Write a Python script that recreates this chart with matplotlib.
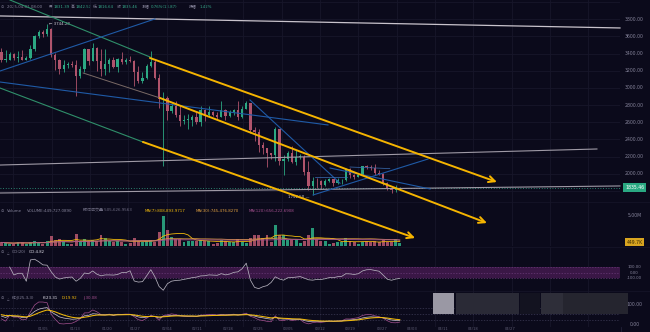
import numpy as np
import pandas as pd
import matplotlib
matplotlib.use("Agg")
import matplotlib.pyplot as plt
from matplotlib.patches import Rectangle
from matplotlib.lines import Line2D
from matplotlib.transforms import blended_transform_factory as btf

plt.rcParams['font.family'] = ['DejaVu Sans', 'Noto Sans CJK SC']

W, H = 650, 332

# ---------------- data (daily candles, 2024-12-26 .. 2025-04-01) ----------------
first_open = 3420.0
last_open = 1831.39
closes = [3330, 3330, 3400, 3350, 3360, 3330, 3350, 3450,
          3610, 3655, 3630, 3690,
          3380, 3330, 3220, 3270, 3280, 3265,
          3135, 3225, 3450, 3310, 3470, 3310,
          3215, 3280, 3330, 3240, 3340, 3300, 3320, 3310,
          3180, 3080, 3110, 3250, 3300, 3120, 2870,
          2880, 2730, 2790, 2690, 2620, 2630, 2630,
          2660, 2600, 2740, 2680, 2720, 2690, 2660,
          2740, 2670, 2720, 2740, 2660, 2760, 2820,
          2510, 2490, 2330, 2300, 2240, 2220,
          2520, 2150, 2170, 2240, 2140, 2200, 2200,
          2020, 1860, 1920, 1910, 1865, 1910, 1940,
          1890, 1925, 1930, 2055, 1980, 1965, 1985,
          2085, 2080, 2070, 2010, 2000, 1895, 1830,
          1805, 1821.59, 1835.46]
highs = [3460, 3440, 3420, 3410, 3430, 3440, 3370, 3500,
         3620, 3670, 3670, 3744.28,
         3700, 3410, 3340, 3320, 3300, 3310,
         3330, 3260, 3470, 3450, 3520, 3480,
         3450, 3450, 3350, 3360, 3350, 3420, 3350, 3370,
         3320, 3260, 3180, 3280, 3430, 3320, 3160,
         2950, 2900, 2830, 2850, 2800, 2680, 2700,
         2680, 2720, 2790, 2760, 2790, 2730, 2720,
         2850, 2750, 2740, 2760, 2850, 2790, 2850,
         2830, 2550, 2520, 2370, 2300, 2240,
         2550, 2520, 2220, 2260, 2320, 2280, 2230,
         2220, 2150, 1960, 1950, 1930, 1940, 1950,
         1940, 1950, 1940, 2070, 2070, 2000, 2000,
         2090, 2100, 2100, 2110, 2040, 2010, 1900,
         1850, 1865, 1842.57]
lows = [3300, 3300, 3320, 3320, 3300, 3320, 3320, 3340,
        3430, 3580, 3590, 3610,
        3360, 3210, 3160, 3190, 3230, 3240,
        2910, 3120, 3180, 3270, 3310, 3200,
        3140, 3150, 3190, 3230, 3180, 3280, 3280, 3300,
        3020, 3060, 3060, 3100, 3240, 3100, 2770,
        2090, 2630, 2710, 2660, 2560, 2580, 2520,
        2560, 2580, 2560, 2620, 2670, 2670, 2640,
        2660, 2630, 2660, 2690, 2630, 2650, 2750,
        2480, 2380, 2250, 2230, 2080, 2170,
        2150, 2100, 1990, 2150, 2120, 2100, 2170,
        1990, 1810, 1752.5, 1830, 1820, 1860, 1900,
        1860, 1880, 1880, 1920, 1950, 1940, 1960,
        1980, 2060, 2040, 1990, 1980, 1870, 1810,
        1780, 1790, 1816.64]
volumes_m = [0.6, 0.5, 0.4, 0.4, 0.7, 0.6, 0.4, 0.6,
             0.8, 0.5, 0.4, 0.9,
             1.7, 1.0, 1.2, 0.9, 0.4, 0.4,
             2.0, 0.9, 1.1, 0.9, 1.0, 0.9,
             1.9, 1.4, 0.9, 0.7, 0.9, 0.7, 0.4, 0.5,
             1.3, 0.9, 0.7, 0.8, 1.0, 0.7, 2.4,
             5.0, 2.6, 1.5, 1.2, 1.2, 0.6, 0.8,
             0.9, 0.8, 1.0, 0.9, 0.8, 0.4, 0.5,
             1.0, 0.8, 0.6, 0.6, 1.2, 0.6, 0.5,
             1.4, 1.8, 1.8, 1.3, 1.9, 0.6,
             3.5, 1.8, 1.9, 1.0, 1.0, 1.2, 0.5,
             0.9, 1.8, 3.0, 1.2, 0.9, 0.8, 0.4,
             0.5, 0.7, 0.6, 1.3, 0.9, 0.6, 0.4,
             0.6, 0.9, 0.7, 0.8, 0.6, 1.0, 0.6,
             0.7, 1.1, 0.45]

price_ticks = [3800, 3600, 3400, 3200, 3000, 2800, 2600, 2400, 2200, 2000]
price_grid = [1800, 2000, 2200, 2400, 2600, 2800, 3000, 3200, 3400, 3600, 3800, 4000]
x_tick_pos = [10.0, 17.7, 25.4, 32.2, 39.9, 47.1, 54.6, 61.8, 69.1, 76.8, 84.0,
              91.7, 98.9, 106.4, 113.6, 122.6]
x_tick_labels = ['01/05', '01/13', '01/20', '01/27', '02/04', '02/11', '02/18', '02/25',
                 '03/05', '03/12', '03/19', '03/27', '04/03', '04/11', '04/18', '04/27']

# drawn trendlines: (x0, p0, x1, p1, color, lw, arrow)
trendlines = [
    (-0.34, 3839, 149.06, 3699, '#c9c3cc', 0.9, False),
    (2.07, 4025, 35.8, 3361, '#2f8f6a', 0.8, False),
    (35.8, 3349, 119.4, 1903, '#f5b400', 1.4, True),
    (-0.34, 3197, 37.0, 3804, '#1f5aa6', 0.8, False),
    (-0.34, 3069, 78.7, 2568, '#1f5aa6', 0.8, False),
    (-0.34, 2999, 34.1, 2370, '#2f8f6a', 0.8, False),
    (34.1, 2370, 99.7, 1250, '#f5b400', 1.4, True),
    (19.7, 3174, 38.2, 2883, '#7a6a66', 0.7, False),
    (38.2, 2883, 117.0, 1425, '#f5b400', 1.4, True),
    (-0.34, 2101, 143.5, 2288, '#9f9aa6', 0.8, False),
    (-0.34, 1775, 149.06, 1857, '#9f9aa6', 0.8, False),
    (59.9, 2859, 81.6, 1889, '#1f5aa6', 0.8, False),
    (75.1, 1752, 102.8, 2171, '#1f5aa6', 0.8, False),
    (79.2, 2066, 103.3, 1822, '#1f5aa6', 0.8, False),
    (75.6, 1965, 83.3, 1965, '#3b6fb5', 0.5, False),
    (84.0, 2078, 93.6, 2060, '#3b6fb5', 0.5, False),
]

# ---------------- derived series ----------------
n = len(closes)
x = np.arange(n, dtype=float)
c = np.array(closes, float)
h = np.array(highs, float)
l = np.array(lows, float)
o = np.concatenate([[first_open], c[:-1]])
o[-1] = last_open
v = np.array(volumes_m, float)

tp = (h + l + c) / 3
cci = np.full(n, np.nan)
for i in range(n):
    w = tp[max(0, i - 19):i + 1]
    if len(w) < 3:
        continue
    m = w.mean()
    md = np.abs(w - m).mean()
    cci[i] = (tp[i] - m) / (0.015 * md) if md > 0 else 0

K = D = 50.0
ks, ds, js = [], [], []
for i in range(n):
    hh = h[max(0, i - 24):i + 1].max()
    ll = l[max(0, i - 24):i + 1].min()
    rsv = (c[i] - ll) / (hh - ll) * 100 if hh > ll else 50
    K = 2 / 3 * K + rsv / 3
    D = 2 / 3 * D + K / 3
    ks.append(K); ds.append(D); js.append(3 * K - 2 * D)

vs = pd.Series(v)
ma7 = vs.rolling(7, min_periods=1).mean()
ma30 = vs.rolling(30, min_periods=1).mean()
ma120 = vs.rolling(120, min_periods=1).mean()

# ---------------- style ----------------
BG = '#0b0a1b'
GRID = '#17162a'
TXT = '#85839a'
UP = '#2ca883'
DN = '#b0546c'
TEAL = '#35a98a'
YEL = '#f0b90b'
ORG = '#e0a040'
PUR = '#a4508f'
FS = 3.3      # axis labels
FH = 2.8      # header line
FP = 2.9      # panel headers
XL = (-0.337, 149.06)
grid_x = np.arange(2.89, 150, 9.236)

fig = plt.figure(figsize=(W / 100, H / 100), dpi=100, facecolor=BG)


def add_ax(top_px, bot_px, z=1):
    ax = fig.add_axes([0, 1 - bot_px / H, 620 / W, (bot_px - top_px) / H])
    ax.patch.set_visible(False)
    ax.set_zorder(z)
    for s in ax.spines.values():
        s.set_visible(False)
    ax.set_xlim(XL)
    ax.tick_params(left=False, bottom=False, labelleft=False, labelbottom=False)
    for g in grid_x:
        ax.axvline(g, color=GRID, lw=0.6, zorder=0)
    return ax


def ftxt(xp, yp, s, color=TXT, fs=FP, ha='left', **kw):
    fig.text(xp / W, 1 - yp / H, s, color=color, fontsize=fs, ha=ha, va='center', **kw)


# ---- price panel ----
axp = add_ax(0, 202, z=5)
axp.set_ylim(1670, 4025)
for p in price_grid:
    axp.axhline(p, color=GRID, lw=0.6, zorder=0)
cols = [UP if cc >= oo else DN for oo, cc in zip(o, c)]
axp.vlines(x, l, h, colors=cols, lw=0.6, zorder=2)
body = np.maximum(np.abs(c - o), 6)
axp.bar(x, body, bottom=np.minimum(o, c), width=0.55, color=cols, zorder=3, linewidth=0)

for (x0, p0, x1, p1, col, lw, arr) in trendlines:
    if arr:
        axp.annotate('', xy=(x1, p1), xytext=(x0, p0),
                     arrowprops=dict(arrowstyle='->,head_length=0.45,head_width=0.22',
                                     color=col, lw=lw, shrinkA=0, shrinkB=0),
                     annotation_clip=False, zorder=6)
    else:
        axp.add_line(Line2D([x0, x1], [p0, p1], color=col, lw=lw, zorder=5, clip_on=False))

axp.axhline(c[-1], color=TEAL, lw=0.6, ls=(0, (1, 2.2)), zorder=4)
axp.annotate('\u2190 3744.28', xy=(11, 3744.28), xytext=(1.5, 0), textcoords='offset points',
             color='#c8c6d0', fontsize=FP, va='center', ha='left')
axp.annotate('1752.50 \u2014', xy=(75, 1752.5), xytext=(-2.5, -1.5), textcoords='offset points',
             color='#c8c6d0', fontsize=FP, va='center', ha='right')

tr = btf(fig.transFigure, axp.transData)
for p in price_ticks:
    axp.text(634.5 / W, p, f'{p:.2f}', transform=tr, color=TXT, fontsize=FS,
             ha='center', va='center', clip_on=False)
axp.text(634.5 / W, c[-1], f'{c[-1]:.2f}', transform=tr, color='white', fontsize=FS,
         ha='center', va='center', clip_on=False,
         bbox=dict(boxstyle='square,pad=0.45', fc='#2aa882', ec='none'))

# ---- volume panel ----
axv = add_ax(202, 246, z=2)
axv.set_ylim(0, 7.33)
axv.bar(x, v, width=0.7, color=cols, linewidth=0, zorder=2, alpha=0.9)
axv.plot(x, ma7, color=YEL, lw=0.6, zorder=3)
axv.plot(x, ma30, color=ORG, lw=0.6, zorder=3)
axv.plot(x, ma120, color=PUR, lw=0.6, zorder=3)
trv = btf(fig.transFigure, axv.transData)
axv.text(634.5 / W, 5, '5.00M', transform=trv, color=TXT, fontsize=FS, ha='center',
         va='center', clip_on=False)
axv.text(634.5 / W, v[-1] + 0.2, '449.7K', transform=trv, color='#3a2a00', fontsize=FS,
         ha='center', va='center', clip_on=False,
         bbox=dict(boxstyle='square,pad=0.4', fc='#d9a520', ec='none'))

# ---- CCI panel ----
axc = add_ax(247, 291, z=2)
axc.set_ylim(-336, 464)
axc.axhspan(-100, 100, color='#3a1746', zorder=1, lw=0)
for lv in (100, 0, -100):
    axc.axhline(lv, color='#6a3a78', lw=0.5, ls=(0, (2, 2)), zorder=1.5)
axc.plot(x, cci, color='#b4b0bc', lw=0.55, zorder=3)
trc = btf(fig.transFigure, axc.transData)
for lv, s in ((100, '100.00'), (0, '0.00'), (-100, '-100.00')):
    axc.text(634.5 / W, lv, s, transform=trc, color=TXT, fontsize=FS * 0.85, ha='center',
             va='center', clip_on=False)

# ---- KDJ panel ----
axk = add_ax(291, 327, z=2)
axk.set_ylim(-15, 165)
for lv in (80, 50, 20):
    axk.axhline(lv, color='#3c3a55', lw=0.5, ls=(0, (2, 2)), zorder=1)
axk.plot(x, js, color=PUR, lw=0.5, zorder=3)
axk.plot(x, ks, color='#d0c8d8', lw=0.5, zorder=3)
axk.plot(x, ds, color=YEL, lw=0.75, zorder=4)
trk = btf(fig.transFigure, axk.transData)
for lv, s in ((100, '100.00'), (0, '0.00')):
    axk.text(634.5 / W, lv, s, transform=trk, color=TXT, fontsize=FS, ha='center',
             va='center', clip_on=False)
axk.set_xticks(x_tick_pos)
axk.set_xticklabels(x_tick_labels)
axk.tick_params(labelbottom=True, length=0, pad=0.3, labelsize=2.7, labelcolor='#5e5c74')

# ---- separators ----
fig.add_artist(Line2D([620.5 / W] * 2, [0, 1 - 327 / H], transform=fig.transFigure,
                      color='#22213a', lw=0.6))
for yp in (202, 247, 291):
    fig.add_artist(Line2D([0, 1], [1 - yp / H] * 2, transform=fig.transFigure,
                          color='#17162a', lw=0.5))

# ---- header texts ----
ftxt(1, 6.5, '\u2299', fs=FH)
ftxt(7, 6.5, '2025-04-01 08:00', fs=FH)
hdr = [(49, '开', TXT), (53.5, '1831.39', TEAL), (71, '高', TXT), (75.5, '1842.57', TEAL),
       (93, '低', TXT), (97.5, '1816.64', TEAL), (117, '收', TXT), (121.5, '1835.46', TEAL),
       (142, '涨幅', TXT), (150.5, '0.76%(13.87)', TEAL), (189, '振幅', TXT),
       (199.5, '1.42%', TEAL)]
for xp, s, col in hdr:
    ftxt(xp, 6.5, s, col, fs=FH)

vh = [(1, '\u2299', TXT), (7, 'Volume', TXT), (27, 'VOLUME:449,727.0890', TXT),
      (83, '预估成交量 505,626.9563', '#6c6a80'), (145, 'MA(7):808,893.9717', YEL),
      (196, 'MA(30):745,476.8270', ORG), (249, 'MA(120):656,222.6908', PUR)]
for xp, s, col in vh:
    ftxt(xp, 210.5, s, col)

ftxt(1, 252, '\u2299')
ftxt(6.5, 252, '\u25b3', fs=FP * 0.8)
ftxt(11.5, 252, 'CCI(20)', fs=FP * 0.92)
ftxt(28.5, 252, 'CCI:4.82', '#e6e4ee', fs=FP * 0.92)

ftxt(1, 298, '\u2299')
ftxt(6.5, 298, '\u25b3', fs=FP * 0.8)
ftxt(12, 298, 'KDJ(25,3,3)')
ftxt(43, 298, 'K:23.31', '#e6e4ee')
ftxt(62, 298, 'D:19.92', YEL)
ftxt(83, 298, 'J:30.08', PUR)

# ---- UI overlay boxes (loading placeholder) ----
boxes = [(433, 454, '#9a98a4'), (456, 519, '#2a2a36'), (520, 540, '#131320'),
         (541, 628, '#25252f')]
for x0p, x1p, col in boxes:
    fig.add_artist(Rectangle((x0p / W, 1 - 314 / H), (x1p - x0p) / W, 21 / H,
                             transform=fig.transFigure, fc=col, ec='none', zorder=20))
fig.add_artist(Rectangle((541 / W, 1 - 314 / H), 22 / W, 21 / H, transform=fig.transFigure,
                         fc='#2e2e39', ec='none', zorder=21))

fig.savefig('out.png', dpi=100, facecolor=BG)
